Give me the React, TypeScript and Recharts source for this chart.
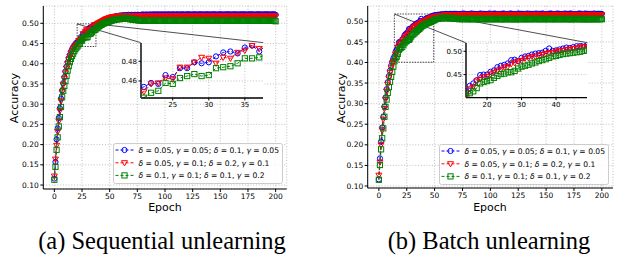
import React from 'react';
import { LineChart, Line, XAxis, YAxis, CartesianGrid, ReferenceArea, ReferenceLine } from 'recharts';

const FONT = '"DejaVu Sans", sans-serif';
const SERIF = '"Liberation Serif", "Times New Roman", Times, serif';

// ---------- data (accuracy in thousandths, epoch 0..200) ----------
const epochs: number[] = Array.from({ length: 201 }, (_, i) => i);

const seqBlue = [
  116,157,213,240,266,290,314,334,352,367,381,393,404,414,422,430,436,441,445,449,452,
  454,458,457,466,464,473,473,479,478,479,485,489,490,488,494,496,490,
  497,499,500,502,504,506,507,508,509,511,512,513,514,514,515,516,516,517,517,518,518,519,519,
  519,520,519,520,520,519,521,520,520,521,
  520,521,521,520,521,521,520,521,521,522,
  521,521,522,521,521,522,521,522,521,522,
  522,521,522,522,521,522,522,521,522,522,
  521,522,522,522,521,522,522,522,521,522,
  522,522,521,522,522,522,522,521,522,522,
  522,522,522,521,522,522,522,522,521,522,
  522,522,522,522,521,522,522,522,522,522,
  521,522,522,522,522,522,521,522,522,522,
  522,522,521,522,522,522,522,522,522,521,
  522,522,522,522,522,521,522,522,522,522,
  522,522,522,521,522,522,522,522,522,522,
  521,522,522,522,522,522,522,521,522,522,
  522,522,522,522,521,522,522,522,522,521,
];
const seqRed = [
  122,164,198,232,258,284,308,330,348,363,377,389,400,410,418,425,431,436,440,444,447,
  449,457,458,463,462,474,474,479,484,483,478,484,483,489,491,496,493,
  497,499,501,502,504,505,507,508,510,511,512,513,514,515,515,516,516,517,517,517,518,518,518,
  517,518,518,517,518,519,518,518,517,518,
  518,519,518,518,518,517,518,519,518,518,
  518,518,519,518,518,518,519,518,518,518,
  519,518,518,518,519,518,518,518,518,519,
  518,518,518,519,518,518,518,519,518,518,
  518,519,518,518,518,518,519,518,518,518,
  519,518,518,518,518,519,518,518,518,519,
  518,518,518,519,518,518,518,518,519,518,
  518,518,519,518,518,518,518,519,518,518,
  518,519,518,518,518,519,518,518,518,518,
  519,518,518,518,518,519,518,518,518,518,
  518,519,518,518,518,518,519,518,518,518,
  518,518,519,518,518,518,518,518,519,518,
  518,518,518,519,518,518,518,518,518,517,
];
const seqGreen = [
  113,145,187,218,245,268,293,317,333,345,357,370,383,394,404,412,419,425,431,436,440,
  443,448,450,458,457,463,465,467,465,466,473,474,475,478,483,483,484,
  487,490,492,494,496,497,499,500,501,502,503,504,505,506,507,508,508,509,510,510,511,510,511,
  512,511,512,513,511,512,511,510,511,509,
  510,509,508,509,508,507,508,507,507,506,
  507,506,507,506,506,507,506,506,507,506,
  506,507,506,506,506,507,506,506,506,507,
  506,506,507,506,506,506,506,507,506,506,
  506,506,506,507,506,506,506,506,507,506,
  506,507,506,506,506,506,507,506,506,506,
  506,506,506,507,506,506,506,506,506,507,
  506,506,507,506,506,506,506,507,506,506,
  506,506,506,506,507,506,506,506,506,506,
  507,506,506,506,506,506,507,506,506,506,
  506,506,507,506,506,506,506,506,507,506,
  506,506,506,506,507,506,506,506,506,506,
  507,506,506,506,506,506,506,507,506,505,
];

const batBlue = [
  116,167,208,242,268,293,315,335,352,367,380,392,402,410,
  415,426,431,438,449,450,450,456,459,466,469,471,474,481,482,479,486,489,490,493,495,496,497,501,506,501,502,504,506,508,507,509,511,511,513,
  514,514,515,515,516,516,516,517,517,517,517,518,518,517,518,518,518,517,518,518,518,518,
  518,517,518,518,518,519,518,518,517,518,
  518,518,519,518,518,518,517,518,518,518,
  519,518,518,518,518,517,518,518,519,518,
  518,518,518,519,518,518,518,517,518,518,
  518,519,518,518,518,518,518,519,518,518,
  517,518,518,518,519,518,518,518,518,518,
  518,518,519,518,518,518,517,518,518,518,
  519,518,518,518,518,518,519,518,518,517,
  518,518,518,519,518,518,518,518,518,519,
  518,518,517,518,518,518,519,518,518,518,
  518,519,518,518,518,518,517,518,518,519,
  518,518,518,518,519,518,518,518,517,518,
  518,518,519,518,518,518,518,518,518,518,
];
const batRed = [
  126,158,200,236,262,288,310,330,347,362,375,387,397,401,
  405,419,424,436,440,445,446,451,455,459,461,466,467,473,475,479,480,485,486,489,488,492,493,495,497,497,500,501,502,504,504,506,507,509,510,
  510,511,512,512,513,513,514,514,514,515,515,515,516,515,516,516,516,515,516,516,516,516,
  516,515,516,516,516,517,516,516,515,516,
  516,516,517,516,516,516,515,516,516,516,
  516,517,516,516,516,515,516,516,516,517,
  516,516,516,515,516,516,517,516,516,516,
  515,516,516,516,517,516,516,516,516,515,
  516,516,517,516,516,516,516,515,516,516,
  516,517,516,516,516,515,516,516,516,516,
  517,516,516,516,515,516,516,516,517,516,
  516,516,516,515,516,516,516,517,516,516,
  516,516,515,516,516,517,516,516,516,516,
  515,516,516,516,517,516,516,516,516,515,
  516,516,517,516,516,516,515,516,516,516,
  516,517,516,516,516,516,515,516,516,516,
];
const batGreen = [
  115,151,189,216,240,268,292,310,326,340,353,365,377,390,
  403,410,414,421,431,434,436,438,443,447,451,452,455,455,458,463,467,469,471,474,476,479,481,483,486,489,490,492,494,495,496,497,498,499,501,
  502,503,505,506,506,507,508,507,508,509,508,507,508,509,508,507,508,507,507,506,507,506,
  506,505,506,506,505,506,505,506,506,505,
  506,505,505,506,506,505,506,505,506,505,
  505,506,506,505,506,505,505,506,505,506,
  506,505,505,506,505,506,506,505,505,506,
  505,506,505,505,506,506,505,506,505,505,
  506,505,506,505,505,506,505,506,506,505,
  505,506,505,506,506,505,505,506,505,506,
  506,505,506,505,505,506,506,505,506,505,
  505,506,506,505,506,505,505,506,505,506,
  506,505,505,506,505,506,506,505,505,506,
  505,506,505,505,506,505,506,506,505,505,
  506,505,506,505,505,506,505,505,506,505,
  505,506,505,506,505,505,506,505,506,505,
];

const xTicks = [0, 25, 50, 75, 100, 125, 150, 175, 200];
const yTicks = [0.1, 0.15, 0.2, 0.25, 0.3, 0.35, 0.4, 0.45, 0.5];
const seqInsetXTicks = [25, 30, 35];
const seqInsetYTicks = [0.46, 0.48];
const batInsetXTicks = [20, 30, 40];
const batInsetYTicks = [0.45, 0.5];

const legendLabels = [
  'δ = 0.05, γ = 0.05; δ = 0.1, γ = 0.05',
  'δ = 0.05, γ = 0.1; δ = 0.2, γ = 0.1',
  'δ = 0.1, γ = 0.1; δ = 0.1, γ = 0.2',
];
const captions = ['(a) Sequential unlearning', '(b) Batch unlearning'];

const SERIES = [
  { key: 'blue', color: '#0000ff', shape: 'circle' },
  { key: 'red', color: '#ff0000', shape: 'tri' },
  { key: 'green', color: '#008000', shape: 'square' },
];

const buildRows = (b: number[], r: number[], g: number[]) =>
  epochs.map((e, i) => ({ epoch: e, blue: b[i] / 1000, red: r[i] / 1000, green: g[i] / 1000 }));

const seqRows = buildRows(seqBlue, seqRed, seqGreen);
const batRows = buildRows(batBlue, batRed, batGreen);

// ---------- marks ----------
function Marker({ shape, cx, cy, color }: any) {
  if (cx == null || cy == null || isNaN(cx) || isNaN(cy)) return null;
  if (shape === 'circle')
    return <circle cx={cx} cy={cy} r={2.6} fill="none" stroke={color} strokeWidth={1} />;
  if (shape === 'tri')
    return (
      <polygon
        points={`${cx - 3},${cy - 2.1} ${cx + 3},${cy - 2.1} ${cx},${cy + 3.1}`}
        fill="none"
        stroke={color}
        strokeWidth={1}
      />
    );
  return <rect x={cx - 2.6} y={cy - 2.6} width={5.2} height={5.2} fill="none" stroke={color} strokeWidth={1} />;
}

function seriesLines(prefix: string) {
  return SERIES.map((s) => (
    <Line
      key={s.key}
      dataKey={s.key}
      stroke={s.color}
      strokeWidth={1}
      strokeDasharray="3 2"
      isAnimationActive={false}
      activeDot={false}
      dot={(p: any) => <Marker key={`${prefix}-${s.key}-${p.index}`} shape={s.shape} cx={p.cx} cy={p.cy} color={s.color} />}
    />
  ));
}

function GreekText({ text, x, y, size }: any) {
  const parts = text.split(/([δγ])/);
  return (
    <text x={x} y={y} fontSize={size} fontFamily={FONT} dominantBaseline="central" fill="#000">
      {parts.map((p: string, i: number) =>
        p === 'δ' || p === 'γ' ? (
          <tspan key={i} fontStyle="italic">{p}</tspan>
        ) : (
          <tspan key={i}>{p}</tspan>
        )
      )}
    </text>
  );
}

function LegendBox({ left, top, width }: any) {
  const rows = [7, 19.8, 32.4];
  return (
    <div style={{ position: 'absolute', left, top, width, height: 41 }}>
      <svg width={width} height={41} style={{ display: 'block' }}>
        <rect x={0.5} y={0.5} width={width - 1} height={40} rx={2} fill="rgba(255,255,255,0.8)" stroke="#cccccc" strokeWidth={1} />
        {SERIES.map((s, i) => (
          <g key={s.key}>
            <line x1={2.5} x2={20.5} y1={rows[i]} y2={rows[i]} stroke={s.color} strokeWidth={1} strokeDasharray="3 2" />
            <Marker shape={s.shape} cx={11.5} cy={rows[i]} color={s.color} />
            <GreekText text={legendLabels[i]} x={25.5} y={rows[i]} size={7.6} />
          </g>
        ))}
      </svg>
    </div>
  );
}

const tickStyle = { fontSize: 7.5, fill: '#000', fontFamily: FONT };
const insetTickStyle = { fontSize: 7, fill: '#000', fontFamily: FONT };

function MainPanel({ left, width, yWidth, rightMargin, xHeight, rows, yDomain, insetX, insetY, corner, prefix }: any) {
  return (
    <div style={{ position: 'absolute', left, top: 0 }}>
      <LineChart width={width} height={215} data={rows} margin={{ top: 6, right: rightMargin, bottom: 0, left: 0 }}>
        <CartesianGrid stroke="#b0b0b0" strokeDasharray="1 1.8" strokeWidth={0.8} />
        <XAxis
          type="number"
          dataKey="epoch"
          domain={[-10, 210]}
          ticks={xTicks}
          interval={0}
          height={xHeight}
          tickSize={3}
          tickMargin={2}
          tick={tickStyle}
          axisLine={{ stroke: '#000', strokeWidth: 1 }}
          tickLine={{ stroke: '#000' }}
        />
        <XAxis xAxisId="top" orientation="top" type="number" dataKey="epoch" domain={[-10, 210]} height={0} tick={false} tickLine={false} axisLine={{ stroke: '#000', strokeWidth: 1 }} />
        <YAxis
          type="number"
          domain={yDomain}
          allowDataOverflow
          ticks={yTicks}
          interval={0}
          width={yWidth}
          tickSize={3}
          tickMargin={1.5}
          tick={tickStyle}
          tickFormatter={(v: number) => v.toFixed(2)}
          axisLine={{ stroke: '#000', strokeWidth: 1 }}
          tickLine={{ stroke: '#000' }}
        />
        <YAxis yAxisId="right" orientation="right" type="number" domain={yDomain} width={0} tick={false} tickLine={false} axisLine={{ stroke: '#000', strokeWidth: 1 }} />
        {seriesLines(prefix)}
        <ReferenceArea x1={insetX[0]} x2={insetX[1]} y1={insetY[0]} y2={insetY[1]} fill="none" stroke="#333" strokeWidth={0.9} strokeDasharray="1.5 1.2" ifOverflow="visible" />
        <ReferenceLine segment={[{ x: insetX[0], y: insetY[1] }, { x: corner.xLeft, y: corner.yTop }]} stroke="#222" strokeWidth={0.8} ifOverflow="visible" />
        <ReferenceLine segment={[{ x: insetX[1], y: insetY[1] }, { x: corner.xRight, y: corner.yTop }]} stroke="#222" strokeWidth={0.8} ifOverflow="visible" />
      </LineChart>
    </div>
  );
}

function InsetPanel({ left, top, width, height, rows, insetX, insetY, xt, yt, prefix }: any) {
  const yW = 25;
  const xH = 14;
  return (
    <div style={{ position: 'absolute', left: left - yW, top }}>
      <LineChart width={width + yW} height={height + xH} data={rows} margin={{ top: 0, right: 0, bottom: 0, left: 0 }}>
        <CartesianGrid fill="#ffffff" stroke="#b0b0b0" strokeDasharray="1 1.8" strokeWidth={0.8} />
        <XAxis type="number" dataKey="epoch" domain={insetX} allowDataOverflow ticks={xt} interval={0} height={xH} tickSize={2.5} tickMargin={1.5} tick={insetTickStyle} axisLine={{ stroke: '#000', strokeWidth: 1.4 }} tickLine={{ stroke: '#000' }} />
        <XAxis xAxisId="top" orientation="top" type="number" dataKey="epoch" domain={insetX} allowDataOverflow height={0} tick={false} tickLine={false} axisLine={{ stroke: '#000', strokeWidth: 1.4 }} />
        <YAxis type="number" domain={insetY} allowDataOverflow ticks={yt} interval={0} width={yW} tickSize={2.5} tickMargin={1.5} tick={insetTickStyle} tickFormatter={(v: number) => v.toFixed(2)} axisLine={{ stroke: '#000', strokeWidth: 1.4 }} tickLine={{ stroke: '#000' }} />
        <YAxis yAxisId="right" orientation="right" type="number" domain={insetY} allowDataOverflow width={0} tick={false} tickLine={false} axisLine={{ stroke: '#000', strokeWidth: 1.4 }} />
        {seriesLines(prefix)}
      </LineChart>
    </div>
  );
}

function AxisTitles({ yCx, xCx }: any) {
  return (
    <>
      <div style={{ position: 'absolute', left: yCx - 40, top: 97.5 - 8, width: 80, height: 16, transform: 'rotate(-90deg)', textAlign: 'center', fontFamily: FONT, fontSize: 11, lineHeight: '16px' }}>
        Accuracy
      </div>
      <div style={{ position: 'absolute', left: xCx - 40, top: 200, width: 80, textAlign: 'center', fontFamily: FONT, fontSize: 11, lineHeight: '16px' }}>
        Epoch
      </div>
    </>
  );
}

const seqInsetX = [20.6, 37.6];
const seqInsetY = [0.4427, 0.4986];
const batInsetX = [13.9, 49.2];
const batInsetY = [0.4006, 0.5178];

const captionStyle: React.CSSProperties = {
  position: 'absolute',
  top: 227,
  width: 300,
  textAlign: 'center',
  fontFamily: SERIF,
  fontSize: 24.5,
  lineHeight: '28px',
  whiteSpace: 'nowrap',
};

export default function App() {
  return (
    <div style={{ position: 'absolute', left: 0, top: 0, width: 618, height: 255, background: '#fff', overflow: 'hidden' }}>
      <MainPanel left={0} width={300} yWidth={43.3} rightMargin={13.3} xHeight={26} rows={seqRows} yDomain={[0.0902, 0.5428]} insetX={seqInsetX} insetY={seqInsetY} corner={{ xLeft: 78.0, xRight: 188.8, yTop: 0.4522 }} prefix="sm" />
      <InsetPanel left={140.7} top={42.7} width={122.6} height={55} rows={seqRows} insetX={seqInsetX} insetY={seqInsetY} xt={seqInsetXTicks} yt={seqInsetYTicks} prefix="si" />
      <LegendBox left={112.7} top={143.3} width={170} />
      <AxisTitles yCx={15} xCx={165} />

      <MainPanel left={310} width={308} yWidth={57.7} rightMargin={5} xHeight={27} rows={batRows} yDomain={[0.0951, 0.5372]} insetX={batInsetX} insetY={batInsetY} corner={{ xLeft: 77.9, xRight: 187.1, yTop: 0.448 }} prefix="bm" />
      <InsetPanel left={465.7} top={42.7} width={121.8} height={54.6} rows={batRows} insetX={batInsetX} insetY={batInsetY} xt={batInsetXTicks} yt={batInsetYTicks} prefix="bi" />
      <LegendBox left={439} top={144} width={170} />
      <AxisTitles yCx={341.7} xCx={490} />

      <div style={{ ...captionStyle, left: 162 - 150 }}>{captions[0]}</div>
      <div style={{ ...captionStyle, left: 489 - 150 }}>{captions[1]}</div>
    </div>
  );
}
